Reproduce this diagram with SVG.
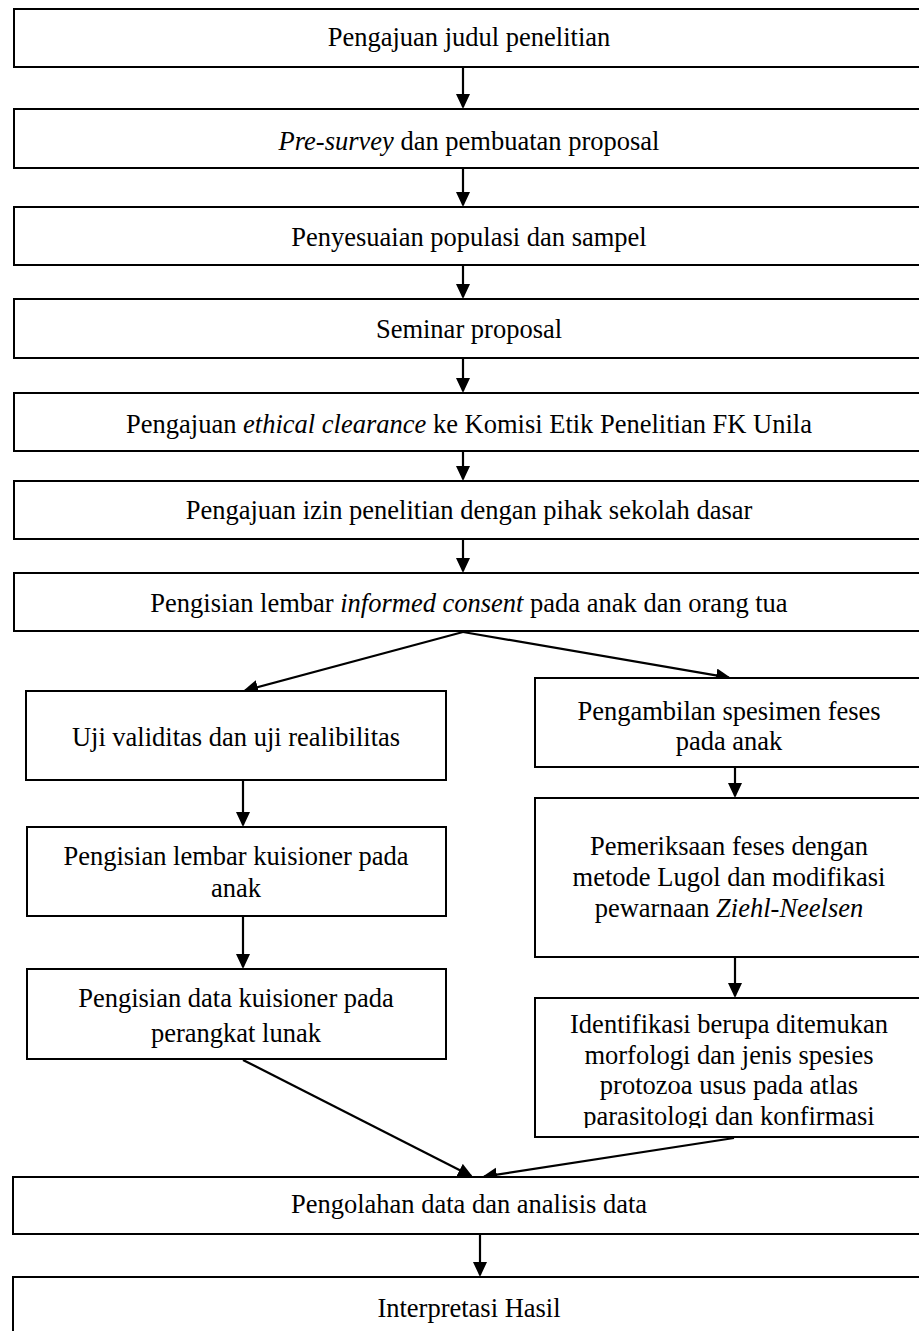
<svg xmlns="http://www.w3.org/2000/svg" width="919" height="1331" viewBox="0 0 919 1331">
<style>
.box{fill:#fff;stroke:#000;stroke-width:2}
.t{font-family:"Liberation Serif","Times New Roman",serif;font-size:26.5px;fill:#000;text-anchor:middle}
.c{fill:none;stroke:#000;stroke-width:2.2}
</style>
<defs>
<marker id="ah" markerUnits="userSpaceOnUse" markerWidth="16" markerHeight="16" viewBox="0 0 16 16" refX="13" refY="7" orient="auto">
<path d="M0,0 L15,7 L0,14 Z" fill="#000"/>
</marker>
<clipPath id="clipF"><rect x="535" y="998" width="400" height="130"/></clipPath>
</defs>
<rect width="919" height="1331" fill="#fff"/>

<g id="connectors">
<line class="c" x1="463" y1="68" x2="463" y2="107" marker-end="url(#ah)"/>
<line class="c" x1="463" y1="169" x2="463" y2="205" marker-end="url(#ah)"/>
<line class="c" x1="463" y1="266" x2="463" y2="297" marker-end="url(#ah)"/>
<line class="c" x1="463" y1="359" x2="463" y2="391" marker-end="url(#ah)"/>
<line class="c" x1="463" y1="452" x2="463" y2="479" marker-end="url(#ah)"/>
<line class="c" x1="463" y1="540" x2="463" y2="571" marker-end="url(#ah)"/>
<line class="c" x1="463" y1="632" x2="245" y2="690.5" marker-end="url(#ah)"/>
<line class="c" x1="463" y1="632" x2="729" y2="677.7" marker-end="url(#ah)"/>
<line class="c" x1="243" y1="781" x2="243" y2="825" marker-end="url(#ah)"/>
<line class="c" x1="243" y1="917" x2="243" y2="967" marker-end="url(#ah)"/>
<line class="c" x1="735" y1="768" x2="735" y2="796" marker-end="url(#ah)"/>
<line class="c" x1="735" y1="958" x2="735" y2="996" marker-end="url(#ah)"/>
<line class="c" x1="243" y1="1060" x2="471.2" y2="1176" marker-end="url(#ah)"/>
<line class="c" x1="734" y1="1138" x2="484" y2="1176.7" marker-end="url(#ah)"/>
<line class="c" x1="480" y1="1235" x2="480" y2="1275" marker-end="url(#ah)"/>
</g>

<g id="n1"><rect class="box" x="14" y="9" width="912" height="58"/><text class="t" x="469" y="46">Pengajuan judul penelitian</text></g>
<g id="n2"><rect class="box" x="14" y="109" width="912" height="59"/><text class="t" x="469" y="150"><tspan font-style="italic">Pre-survey</tspan> dan pembuatan proposal</text></g>
<g id="n3"><rect class="box" x="14" y="207" width="912" height="58"/><text class="t" x="469" y="246">Penyesuaian populasi dan sampel</text></g>
<g id="n4"><rect class="box" x="14" y="299" width="912" height="59"/><text class="t" x="469" y="338">Seminar proposal</text></g>
<g id="n5"><rect class="box" x="14" y="393" width="912" height="58"/><text class="t" x="469" y="433">Pengajuan <tspan font-style="italic">ethical clearance</tspan> ke Komisi Etik Penelitian FK Unila</text></g>
<g id="n6"><rect class="box" x="14" y="481" width="912" height="58"/><text class="t" x="469" y="519">Pengajuan izin penelitian dengan pihak sekolah dasar</text></g>
<g id="n7"><rect class="box" x="14" y="573" width="912" height="58"/><text class="t" x="469" y="612">Pengisian lembar <tspan font-style="italic">informed consent</tspan> pada anak dan orang tua</text></g>

<g id="nA"><rect class="box" x="26" y="691" width="420" height="89"/><text class="t" x="236" y="746">Uji validitas dan uji realibilitas</text></g>
<g id="nC"><rect class="box" x="27" y="827" width="419" height="89"/><text class="t" x="236" y="865">Pengisian lembar kuisioner pada</text><text class="t" x="236" y="897">anak</text></g>
<g id="nE"><rect class="box" x="27" y="969" width="419" height="90"/><text class="t" x="236" y="1007">Pengisian data kuisioner pada</text><text class="t" x="236" y="1042">perangkat lunak</text></g>

<g id="nB"><rect class="box" x="535" y="678" width="390" height="89"/><text class="t" x="729" y="720">Pengambilan spesimen feses</text><text class="t" x="729" y="750">pada anak</text></g>
<g id="nD"><rect class="box" x="535" y="798" width="390" height="159"/><text class="t" x="729" y="855">Pemeriksaan feses dengan</text><text class="t" x="729" y="886">metode Lugol dan modifikasi</text><text class="t" x="729" y="917">pewarnaan <tspan font-style="italic">Ziehl-Neelsen</tspan></text></g>
<g id="nF"><rect class="box" x="535" y="998" width="390" height="139"/>
<g clip-path="url(#clipF)"><text class="t" x="729" y="1033">Identifikasi berupa ditemukan</text><text class="t" x="729" y="1064">morfologi dan jenis spesies</text><text class="t" x="729" y="1094">protozoa usus pada atlas</text><text class="t" x="729" y="1125">parasitologi dan konfirmasi</text></g></g>

<g id="nG"><rect class="box" x="13" y="1177" width="912" height="57"/><text class="t" x="469" y="1213">Pengolahan data dan analisis data</text></g>
<g id="nH"><rect class="box" x="13" y="1277" width="912" height="80"/><text class="t" x="469" y="1317">Interpretasi Hasil</text></g>
</svg>
